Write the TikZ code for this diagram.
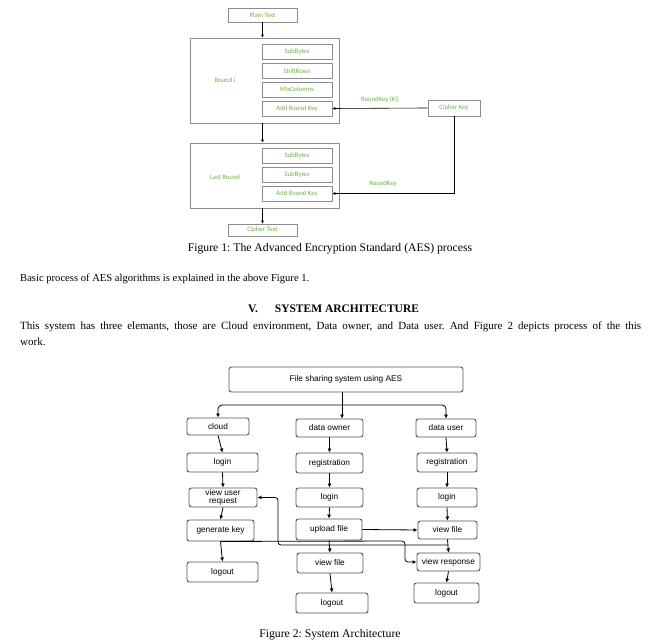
\documentclass[tikz,border=0pt]{standalone}
\usepackage{fontspec}
\setmainfont{Liberation Serif}
\setsansfont{Liberation Sans}
\newfontfamily\calfont{Carlito}
\usetikzlibrary{arrows.meta}

\definecolor{aesgreen}{RGB}{112,173,71}
\definecolor{aesgray}{RGB}{140,140,140}
\definecolor{sysgray}{RGB}{85,85,85}

\tikzset{
  aesbox/.style={draw=aesgray,line width=0.6pt,inner sep=0pt,font=\calfont\fontsize{6.7}{7}\selectfont,text=aesgreen},
  aessub/.style={aesbox,minimum width=70pt,minimum height=15pt},
  aeslabel/.style={inner sep=0pt,font=\calfont\fontsize{6.7}{7}\selectfont,text=aesgreen},
  aesarrow/.style={-{Latex[length=3pt,width=3pt]},line width=0.6pt},
  sysbox/.style={draw=sysgray,line width=0.9pt,rounded corners=2.5pt,inner sep=0pt,align=center,font=\sffamily\fontsize{8.3}{8.5}\selectfont},
  sysarrow/.style={-{Latex[length=4pt,width=4pt]},line width=0.8pt},
  bodytext/.style={inner sep=0pt,font=\fontsize{10.6}{12}\selectfont},
  captext/.style={inner sep=0pt,font=\fontsize{11.7}{13}\selectfont},
}

\begin{document}
\frenchspacing
\begin{tikzpicture}[x=1pt,y=-1pt]
\useasboundingbox (0,0) rectangle (662,644);

% Figure 1: AES
\node[aesbox,minimum width=69pt,minimum height=14pt] (plain) at (262.5,15) {Plain Text};
\node[aesbox,minimum width=149pt,minimum height=85pt] (round) at (264.5,80.5) {}; %round i
\node[aeslabel] (roundlbl) at (225,80) {Round i};
\node[aessub] (sub1) at (297,51.5) {SubBytes};
\node[aessub] (shift) at (297,71) {ShiftRows};
\node[aessub] (mix) at (297,89.5) {MixColumns};
\node[aessub] (add1) at (297,108.5) {Add Round Key};
\node[aesbox,minimum width=52pt,minimum height=16pt] (ckey) at (454,108) {Cipher Key};

\node[aesbox,minimum width=149pt,minimum height=65pt] (last) at (264.5,175.5) {}; %last round
\node[aeslabel] (lastlbl) at (225,177) {Last Round};
\node[aessub] (sub2) at (297,155.5) {SubBytes};
\node[aessub] (sub3) at (297,175) {SubBytes};
\node[aessub] (add2) at (297,193.5) {Add Round Key};
\node[aesbox,minimum width=69pt,minimum height=12pt] (ctext) at (262.5,230) {Cipher Text};

\draw[aesarrow] (plain.south) -- (plain.south |- round.north);
\draw[aesarrow] (round.south -| plain.south) -- (plain.south |- last.north);
\draw[aesarrow] (last.south -| plain.south) -- (ctext.north);
\draw[aesarrow] (ckey.west) -- node[aeslabel,above=5pt] (rk1) {RoundKey (Ki)} (add1.east); %key i
\draw[aesarrow] (ckey.south) |- (add2.east); %last key
\node[aeslabel] (rk2) at (383,184) {RoundKey};

\node[captext,anchor=base] (cap1) at (330,252) {Figure 1: The Advanced Encryption Standard (AES) process};

% text
\node[bodytext,anchor=base west] (para1) at (20,282) {Basic process of AES algorithms is explained in the above Figure 1.};
\node[bodytext,anchor=base west,font=\bfseries\fontsize{11.5}{12}\selectfont] (head) at (248,313) {V.\hspace{17pt}SYSTEM ARCHITECTURE};
\node[bodytext,anchor=base west,font=\fontsize{11}{12}\selectfont] (para2) at (20,330) {\makebox[621pt][s]{This system has three elemants, those are Cloud environment, Data owner, and Data user. And Figure 2 depicts process of the this}};
\node[bodytext,anchor=base west,font=\fontsize{11}{12}\selectfont] (para3) at (20,346) {work.};

% Figure 2: system architecture
\node[sysbox,minimum width=234pt,minimum height=25pt] (fss) at (346,379.5) {File sharing system using AES};

\node[sysbox,minimum width=62pt,minimum height=17pt] (cloud) at (218,426.5) {cloud};
\node[sysbox,minimum width=71pt,minimum height=19pt] (clogin) at (222.5,462.5) {login};
\node[sysbox,minimum width=68pt,minimum height=19pt] (vreq) at (223,497.5) {view user\\request};
\node[sysbox,minimum width=67pt,minimum height=21pt] (genkey) at (220.5,530.5) {generate key};
\node[sysbox,minimum width=71pt,minimum height=20pt] (clogout) at (222.5,572) {logout};

\node[sysbox,minimum width=67pt,minimum height=18pt] (owner) at (329.5,428) {data owner};
\node[sysbox,minimum width=67pt,minimum height=20pt] (oreg) at (329.5,463) {registration};
\node[sysbox,minimum width=67pt,minimum height=19pt] (ologin) at (329.5,497.5) {login};
\node[sysbox,minimum width=66pt,minimum height=21pt] (upload) at (329,529.5) {upload file};
\node[sysbox,minimum width=66pt,minimum height=20pt] (ofile) at (330,563) {view file};
\node[sysbox,minimum width=72pt,minimum height=20pt] (ologout) at (332,603) {logout};

\node[sysbox,minimum width=60pt,minimum height=18pt] (user) at (446,428) {data user};
\node[sysbox,minimum width=60pt,minimum height=19pt] (ureg) at (447,462.5) {registration};
\node[sysbox,minimum width=60pt,minimum height=19pt] (ulogin) at (447,497.5) {login};
\node[sysbox,minimum width=59pt,minimum height=18pt] (ufile) at (447.5,530) {view file};
\node[sysbox,minimum width=63pt,minimum height=18pt] (uresp) at (448.5,562) {view response};
\node[sysbox,minimum width=65pt,minimum height=20pt] (ulogout) at (446.5,593) {logout};

\coordinate (split) at (342,405);
\draw[line width=0.9pt] (fss.south -| split) -- (split);
\draw[sysarrow,rounded corners=4pt] (split) -| (cloud.north);
\draw[sysarrow,rounded corners=4pt] (split) -| (user.north);
\draw[sysarrow] (split) -- (split |- owner.north);

% cloud
\draw[sysarrow] (cloud.south) -- (clogin.north);
\draw[sysarrow] (clogin.south) -- (vreq.north);
\draw[sysarrow] (vreq.south) -- (genkey.north);
\draw[sysarrow] (genkey.south) -- (clogout.north);

% data owner
\draw[sysarrow] (owner.south) -- (oreg.north);
\draw[sysarrow] (oreg.south) -- (ologin.north);
\draw[sysarrow] (ologin.south) -- (upload.north);
\draw[sysarrow] (upload.south) -- (ofile.north);
\draw[sysarrow] (ofile.south) -- (ologout.north);
\draw[sysarrow] (upload.east) -- (ufile.west);

% data user
\draw[sysarrow] (user.south) -- (ureg.north);
\draw[sysarrow] (ureg.south) -- (ulogin.north);
\draw[sysarrow] (ulogin.south) -- (ufile.north);
\draw[sysarrow] (ufile.south) -- (uresp.north);
\draw[sysarrow] (uresp.south) -- (ulogout.north);

% key and request
\coordinate (reqsrc) at (448,545);
\draw[sysarrow,rounded corners=3pt] (genkey.south) -- (405,541) |- (uresp.west); %key
\draw[sysarrow,rounded corners=3pt] (reqsrc) -- (278,545) |- (vreq.east); %request

\node[captext,anchor=base] (cap2) at (330,637) {Figure 2: System Architecture};
\end{tikzpicture}
\end{document}
